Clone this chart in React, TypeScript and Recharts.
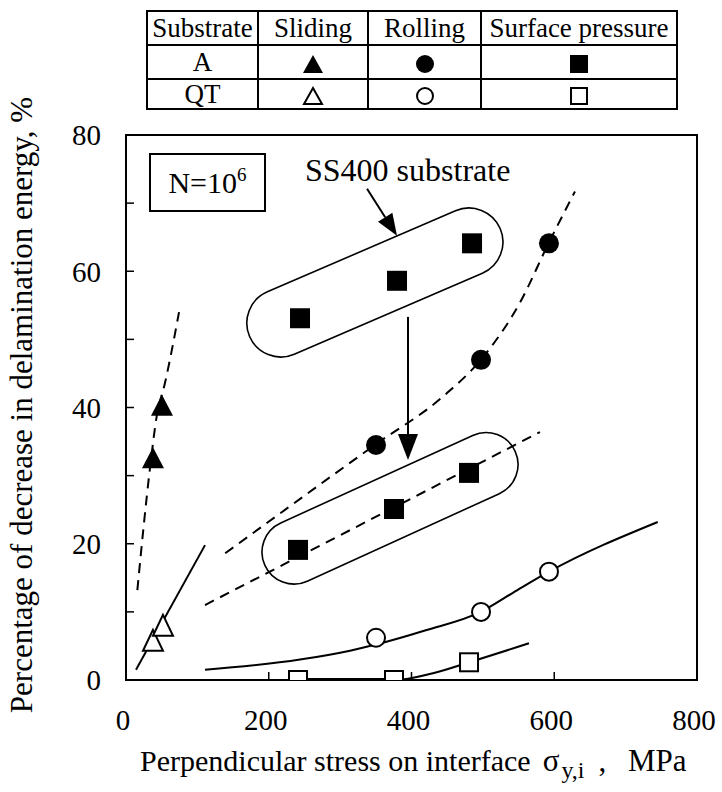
import React from 'react';
import { ComposedChart, Line, Scatter, XAxis, YAxis, ReferenceArea, ReferenceLine } from 'recharts';

// markers (x: MPa, y: %)
const slidingA = [{ x: 37.8, y: 32.4 }, { x: 50.4, y: 40.1 }];
const slidingQT = [{ x: 37.8, y: 5.6 }, { x: 51.8, y: 7.8 }];
const rollingA = [{ x: 350.3, y: 34.5 }, { x: 497.4, y: 47 }, { x: 592.6, y: 64.1 }];
const rollingQT = [{ x: 350.3, y: 6.2 }, { x: 497.4, y: 10 }, { x: 592.6, y: 15.9 }];
const pressureSS400 = [{ x: 243.8, y: 53.1 }, { x: 379.7, y: 58.6 }, { x: 484.8, y: 64.1 }];
const pressureA = [{ x: 241, y: 19.1 }, { x: 375.5, y: 25.1 }, { x: 480.6, y: 30.4 }];
const pressureQT = [{ x: 241, y: 0 }, { x: 375.5, y: 0 }, { x: 480.6, y: 2.6 }];

// fitted curves, points
const slidingACurve = [{ x: 15.9, y: 13.2 }, { x: 33.6, y: 31.1 }, { x: 43, y: 38.7 }, { x: 54.6, y: 43.6 }, { x: 74.3, y: 54 }];
const slidingQTCurve = [{ x: 14, y: 1.5 }, { x: 110.7, y: 19.8 }];
const rollingACurve = [{ x: 139, y: 18.6 }, { x: 350, y: 34.6 }, { x: 444, y: 41.6 }, { x: 497, y: 47 }, { x: 552, y: 55.4 }, { x: 592, y: 64.1 }, { x: 629, y: 71.7 }];
const rollingQTCurve = [{ x: 110.7, y: 1.5 }, { x: 243.8, y: 3.0 }, { x: 313.8, y: 4.3 }, { x: 350, y: 5.2 }, { x: 420, y: 7.3 }, { x: 497, y: 10 }, { x: 542, y: 12.8 }, { x: 592.6, y: 15.9 }, { x: 745, y: 23.2 }];
const pressureACurve = [{ x: 110.7, y: 11 }, { x: 580, y: 36.4 }];
const pressureQTCurve = [{ x: 168, y: 0 }, { x: 375.5, y: 0 }, { x: 430, y: 1.0 }, { x: 480.6, y: 2.6 }, { x: 564.6, y: 5.4 }];
const pressureQTBase = [{ x: 241, y: 0 }, { x: 375.5, y: 0 }];

// group outlines and arrows
const groupUpper = [{ x: 348.7, y: 58.35 }];
const groupLower = [{ x: 369.9, y: 25.2 }];
const arrowLabel = [{ x: 337.7, y: 72.1 }, { x: 379.7, y: 65.2 }];
const arrowShift = [{ x: 395.1, y: 53.3 }, { x: 395.1, y: 32.3 }];

const xTicks = [0, 200, 400, 600, 800];
const yTicks = [0, 10, 20, 30, 40, 50, 60, 70, 80];

const FONT = 'serif';
const DASH = '10 7';

const filledSquare = (p: any) => <rect x={p.cx - 10} y={p.cy - 10} width={20} height={20} fill="#000" />;
const openSquare = (p: any) => <rect x={p.cx - 9} y={p.cy - 9} width={18} height={18} fill="#fff" stroke="#000" strokeWidth={2} />;
const filledCircle = (p: any) => <circle cx={p.cx} cy={p.cy} r={10} fill="#000" />;
const openCircle = (p: any) => <circle cx={p.cx} cy={p.cy} r={9} fill="#fff" stroke="#000" strokeWidth={2} />;
const filledTri = (p: any) => (
  <polygon points={`${p.cx},${p.cy - 12} ${p.cx + 11},${p.cy + 9} ${p.cx - 11},${p.cy + 9}`} fill="#000" />
);
const openTri = (p: any) => (
  <polygon points={`${p.cx},${p.cy - 12} ${p.cx + 10},${p.cy + 9} ${p.cx - 10},${p.cy + 9}`} fill="#fff" stroke="#000" strokeWidth={2} />
);

const capsule = (half: number, r: number, angle: number) => (p: any) => (
  <path
    transform={`translate(${p.cx},${p.cy}) rotate(${angle})`}
    d={`M${-half},${-r} L${half},${-r} A${r},${r} 0 0 1 ${half},${r} L${-half},${r} A${r},${r} 0 0 1 ${-half},${-r} Z`}
    fill="none"
    stroke="#000"
    strokeWidth={1.6}
  />
);

const arrow = (headLen: number, headW: number) => (p: any) => {
  const { x1, y1, x2, y2 } = p;
  const d = Math.hypot(x2 - x1, y2 - y1) || 1;
  const ux = (x2 - x1) / d;
  const uy = (y2 - y1) / d;
  const bx = x2 - ux * headLen;
  const by = y2 - uy * headLen;
  const pts = `${x2},${y2} ${bx - uy * headW / 2},${by + ux * headW / 2} ${bx + uy * headW / 2},${by - ux * headW / 2}`;
  return (
    <g>
      <line x1={x1} y1={y1} x2={bx} y2={by} stroke="#000" strokeWidth={2} />
      <polygon points={pts} fill="#000" />
    </g>
  );
};

const XTick = (p: any) => (
  <text x={p.x - 3} y={p.y} dy="0.71em" textAnchor="middle" fill="#000" style={{ fontFamily: FONT, fontSize: 29 }}>
    {p.payload.value}
  </text>
);
const YTick = (p: any) =>
  p.payload.value % 20 === 0 ? (
    <text x={p.x} y={p.y} dy="0.36em" textAnchor="end" fill="#000" style={{ fontFamily: FONT, fontSize: 29 }}>
      {p.payload.value}
    </text>
  ) : (
    <g />
  );

const Sym = ({ kind }: { kind: string }) => (
  <svg width={24} height={22} style={{ verticalAlign: 'middle' }}>
    {kind === 'ft' && <polygon points="12,2 22,20 2,20" fill="#000" />}
    {kind === 'ot' && <polygon points="12,3 21,19 3,19" fill="#fff" stroke="#000" strokeWidth={2} />}
    {kind === 'fc' && <circle cx={12} cy={11} r={9} fill="#000" />}
    {kind === 'oc' && <circle cx={12} cy={11} r={8} fill="#fff" stroke="#000" strokeWidth={2} />}
    {kind === 'fs' && <rect x={3} y={2} width={18} height={18} fill="#000" />}
    {kind === 'os' && <rect x={4} y={3} width={16} height={16} fill="#fff" stroke="#000" strokeWidth={2} />}
  </svg>
);

const cell: React.CSSProperties = { border: '2px solid #000', padding: 0, textAlign: 'center', lineHeight: 1, fontFamily: FONT, fontSize: 27 };

const App = () => (
  <div style={{ position: 'absolute', left: 0, top: 0, width: 722, height: 792, background: '#fff', fontFamily: FONT }}>
    <table style={{ position: 'absolute', left: 146, top: 10, borderCollapse: 'collapse', tableLayout: 'fixed', width: 530 }}>
      <colgroup>
        <col style={{ width: 111 }} />
        <col style={{ width: 110 }} />
        <col style={{ width: 113 }} />
        <col style={{ width: 196 }} />
      </colgroup>
      <tbody>
        <tr style={{ height: 34 }}>
          <td style={cell}>Substrate</td>
          <td style={cell}>Sliding</td>
          <td style={cell}>Rolling</td>
          <td style={cell}>Surface pressure</td>
        </tr>
        <tr style={{ height: 34 }}>
          <td style={cell}>A</td>
          <td style={cell}><Sym kind="ft" /></td>
          <td style={cell}><Sym kind="fc" /></td>
          <td style={cell}><Sym kind="fs" /></td>
        </tr>
        <tr style={{ height: 30 }}>
          <td style={cell}>QT</td>
          <td style={cell}><Sym kind="ot" /></td>
          <td style={cell}><Sym kind="oc" /></td>
          <td style={cell}><Sym kind="os" /></td>
        </tr>
      </tbody>
    </table>

    <ComposedChart width={722} height={792} margin={{ top: 135, right: 25, bottom: 0, left: 0 }}>
      <XAxis
        type="number"
        dataKey="x"
        domain={[0, 800]}
        ticks={xTicks}
        height={112}
        tickSize={-8}
        tickMargin={37}
        tick={XTick}
        axisLine={{ stroke: '#000', strokeWidth: 2 }}
        tickLine={{ stroke: '#000', strokeWidth: 1.5 }}
        allowDataOverflow
      />
      <YAxis
        type="number"
        dataKey="y"
        domain={[0, 80]}
        ticks={yTicks}
        width={126}
        tickSize={-8}
        tickMargin={33}
        tick={YTick}
        axisLine={{ stroke: '#000', strokeWidth: 2 }}
        tickLine={{ stroke: '#000', strokeWidth: 1.5 }}
        allowDataOverflow
      />
      <ReferenceArea x1={0} x2={800} y1={0} y2={80} fill="none" stroke="#000" strokeWidth={2} fillOpacity={0} />

      <Scatter data={groupUpper} shape={capsule(102.4, 34, -23.3)} isAnimationActive={false} />
      <Scatter data={groupLower} shape={capsule(105.5, 32, -24.5)} isAnimationActive={false} />
      <ReferenceLine segment={arrowLabel} shape={arrow(22, 17)} />
      <ReferenceLine segment={arrowShift} shape={arrow(26, 20)} />

      <Line data={slidingACurve} dataKey="y" type="monotone" stroke="#000" strokeWidth={2} strokeDasharray={DASH} dot={false} isAnimationActive={false} />
      <Line data={slidingQTCurve} dataKey="y" type="linear" stroke="#000" strokeWidth={2} dot={false} isAnimationActive={false} />
      <Line data={rollingACurve} dataKey="y" type="monotone" stroke="#000" strokeWidth={2} strokeDasharray={DASH} dot={false} isAnimationActive={false} />
      <Line data={rollingQTCurve} dataKey="y" type="monotone" stroke="#000" strokeWidth={2} dot={false} isAnimationActive={false} />
      <Line data={pressureACurve} dataKey="y" type="linear" stroke="#000" strokeWidth={2} strokeDasharray={DASH} dot={false} isAnimationActive={false} />
      <Line data={pressureQTCurve} dataKey="y" type="monotone" stroke="#000" strokeWidth={2} dot={false} isAnimationActive={false} />
      <Line data={pressureQTBase} dataKey="y" type="linear" stroke="#000" strokeWidth={4} dot={false} isAnimationActive={false} />

      <Scatter data={slidingA} shape={filledTri} isAnimationActive={false} />
      <Scatter data={slidingQT} shape={openTri} isAnimationActive={false} />
      <Scatter data={rollingA} shape={filledCircle} isAnimationActive={false} />
      <Scatter data={rollingQT} shape={openCircle} isAnimationActive={false} />
      <Scatter data={pressureSS400} shape={filledSquare} isAnimationActive={false} />
      <Scatter data={pressureA} shape={filledSquare} isAnimationActive={false} />
      <Scatter data={pressureQT} shape={openSquare} isAnimationActive={false} />
    </ComposedChart>

    <div style={{ position: 'absolute', left: 149, top: 153, width: 113, height: 55, border: '2px solid #000', fontSize: 30, lineHeight: '55px', textAlign: 'center' }}>
      N=10<sup style={{ fontSize: 19, verticalAlign: 'top', lineHeight: '40px' }}>6</sup>
    </div>
    <div style={{ position: 'absolute', left: 305, top: 154, fontSize: 32, lineHeight: 1, whiteSpace: 'nowrap' }}>SS400 substrate</div>

    <div style={{ position: 'absolute', left: 21, top: 405, fontSize: 31, lineHeight: 1, whiteSpace: 'nowrap', transform: 'translate(-50%, -50%) rotate(-90deg)' }}>
      Percentage of decrease in delamination energy, %
    </div>
    <div style={{ position: 'absolute', left: 140, top: 745, fontSize: 30, lineHeight: 1, whiteSpace: 'nowrap' }}>
      Perpendicular stress on interface
      <span style={{ fontSize: 31, marginLeft: 12 }}>σ</span>
      <sub style={{ fontSize: 24, verticalAlign: '-7px', marginLeft: 2 }}>y,i</sub>
      <span style={{ marginLeft: 14, wordSpacing: 14, fontSize: 31 }}>, MPa</span>
    </div>
  </div>
);

export default App;
